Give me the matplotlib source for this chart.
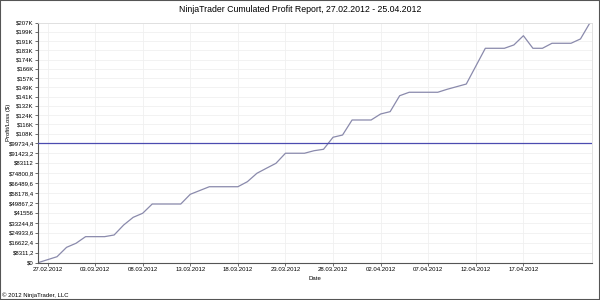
import matplotlib
matplotlib.use("Agg")
import matplotlib.pyplot as plt
import matplotlib.dates as mdates
from matplotlib.patches import Rectangle
import numpy as np
import pandas as pd

# cumulated profit, one vertex per day where the curve bends
dates = ["2012-02-26", "2012-02-28", "2012-02-29", "2012-03-01", "2012-03-02",
         "2012-03-04", "2012-03-05", "2012-03-06", "2012-03-07", "2012-03-08",
         "2012-03-09", "2012-03-12", "2012-03-13", "2012-03-15", "2012-03-18",
         "2012-03-19", "2012-03-20", "2012-03-21", "2012-03-22", "2012-03-23",
         "2012-03-25", "2012-03-26", "2012-03-27", "2012-03-28", "2012-03-29",
         "2012-03-30", "2012-04-01", "2012-04-02", "2012-04-03", "2012-04-04",
         "2012-04-05", "2012-04-08", "2012-04-09", "2012-04-11", "2012-04-13",
         "2012-04-15", "2012-04-16", "2012-04-17", "2012-04-18", "2012-04-19",
         "2012-04-20", "2012-04-22", "2012-04-23", "2012-04-24"]
profit = [0, 5000, 12800, 16200, 21700,
          21700, 23100, 31400, 37800, 41200,
          48900, 48900, 57000, 63300, 63300,
          67500, 74500, 78700, 82800, 91200,
          91200, 93300, 94500, 104900, 106900,
          120400, 120400, 125800, 127900, 142200,
          145300, 145300, 148000, 152700, 184800,
          184800, 187800, 196100, 184800, 184800,
          189300, 189300, 193200, 207780]

y_step = 8311.2
y_labels = ["$0", "$8311,2", "$16622,4", "$24933,6", "$33244,8", "$41556",
            "$49867,2", "$58178,4", "$66489,6", "$74800,8", "$83112",
            "$91423,2", "$99734,4", "$108K", "$116K", "$124K", "$132K",
            "$141K", "$149K", "$157K", "$166K", "$174K", "$183K", "$191K",
            "$199K", "$207K"]
x_ticks = ["2012-02-27", "2012-03-03", "2012-03-08", "2012-03-13", "2012-03-18",
           "2012-03-23", "2012-03-28", "2012-04-02", "2012-04-07", "2012-04-12",
           "2012-04-17"]
break_level = 99734.4
y_top = 25 * y_step

# the value axis is split at break_level: lower and upper parts get
# slightly different pixel heights (119.7 px and 120.3 px)
H1, H2 = 119.7, 120.3


def fwd(v):
    v = np.asarray(v, dtype=float)
    return np.where(v <= break_level, v / break_level * H1,
                    H1 + (v - break_level) / (y_top - break_level) * H2)


def inv(u):
    u = np.asarray(u, dtype=float)
    return np.where(u <= H1, u / H1 * break_level,
                    break_level + (u - H1) / H2 * (y_top - break_level))


plt.rcParams['font.family'] = ['Liberation Sans', 'DejaVu Sans']

fig = plt.figure(figsize=(6, 3), dpi=100)
ax = fig.add_axes([38 / 600, 1 - 262.7 / 300, 554 / 600, 240 / 300])
ax.set_yscale('function', functions=(fwd, inv))

x = pd.to_datetime(dates)
ax.plot(x, profit, color="#8a8aac", lw=0.9)
ax.axhline(break_level, color="#4c4cb0", lw=0.9, zorder=3)

yt = [i * y_step for i in range(len(y_labels))]
ax.set_yticks(yt)
ax.set_yticklabels(y_labels)
ax.yaxis.set_minor_locator(matplotlib.ticker.NullLocator())
ax.set_ylim(0, y_top)

ax.set_xticks(pd.to_datetime(x_ticks))
ax.xaxis.set_major_formatter(mdates.DateFormatter("%d.%m.%Y"))
ax.set_xlim(pd.Timestamp("2012-02-26"), pd.Timestamp("2012-04-24 05:00"))

ax.tick_params(labelsize=4.3, length=2, width=0.6, color="#555555", pad=1)
ax.grid(True, color="#f0f0f0", lw=0.6)
for s in ["left", "bottom"]:
    ax.spines[s].set_color("#555555")
    ax.spines[s].set_linewidth(0.8)
for s in ["top", "right"]:
    ax.spines[s].set_color("#dddddd")
    ax.spines[s].set_linewidth(0.6)

fig.text(0.5, 1 - 10 / 300, "NinjaTrader Cumulated Profit Report, 27.02.2012 - 25.04.2012",
         ha="center", va="center", fontsize=6.3)
fig.text(315 / 600, 1 - 279 / 300, "Date", ha="center", va="center", fontsize=4.3)
fig.text(9 / 600, 1 - 122 / 300, "Profit/Loss ($)", rotation=90,
         ha="center", va="center", fontsize=4.3)
fig.text(2 / 600, 1 - 295 / 300, "\u00a9 2012 NinjaTrader, LLC",
         ha="left", va="center", fontsize=4.3)

fig.patches.append(Rectangle((0, 0), 1, 1, transform=fig.transFigure,
                             fill=False, edgecolor="#555555", lw=1.5))

fig.savefig("out.png", dpi=100)
